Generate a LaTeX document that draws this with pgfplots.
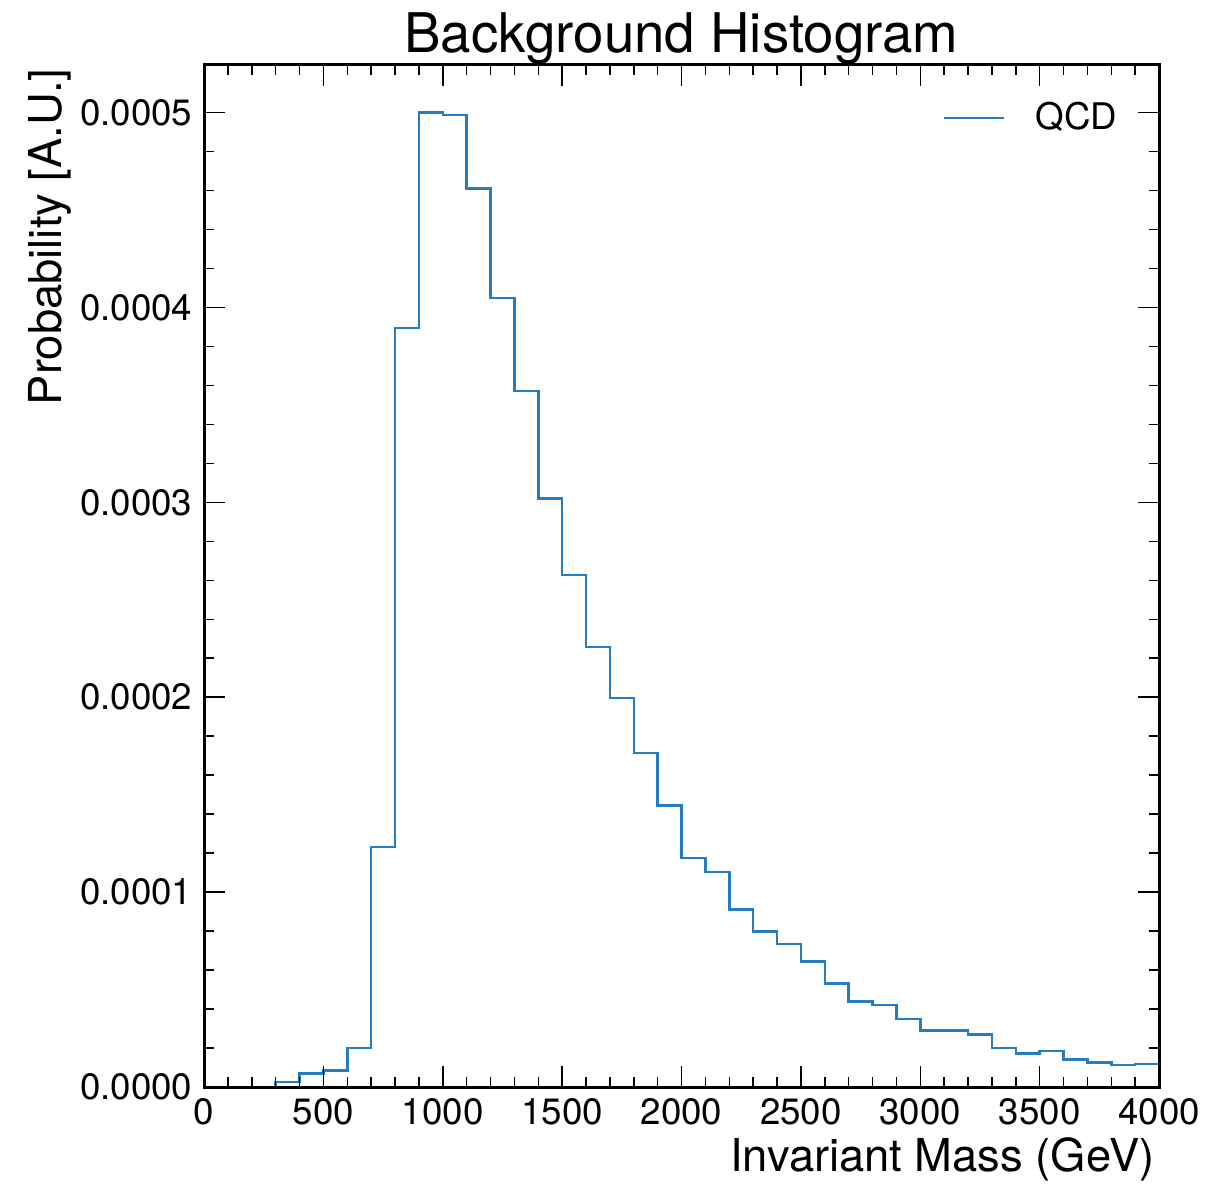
\documentclass[border=0pt]{standalone}
\usepackage{fontspec}
\setmainfont{TeX Gyre Heros}
\usepackage{pgfplots}
\pgfplotsset{compat=1.18}
\definecolor{qcd}{RGB}{38,124,190}
\begin{document}
\begin{tikzpicture}
\begin{axis}[
  name=ax, axis on top,
  scale only axis, width=286.5pt, height=306.6pt,
  xmin=0, xmax=4000, ymin=0, ymax=0.0005244,
  xtick={0,500,1000,1500,2000,2500,3000,3500,4000},
  ytick={0,0.0001,0.0002,0.0003,0.0004,0.0005},
  minor x tick num=4, minor y tick num=4,
  tick align=inside, xtick pos=both, ytick pos=both,
  xticklabel pos=bottom, yticklabel pos=left,
  major tick length=6.3pt, minor tick length=3pt,
  axis line style={line width=0.9pt},
  every tick/.style={black, line width=0.45pt},
  scaled y ticks=false, scaled x ticks=false,
  yticklabel style={/pgf/number format/.cd, fixed, fixed zerofill, precision=4},
  xticklabel style={/pgf/number format/1000 sep={}},
  /pgf/number format/assume math mode=true,
  tick label style={font=\fontsize{11}{13}\selectfont},
  every axis title/.style={at={(0.5,1)}, anchor=base, yshift=3.6pt, font=\fontsize{16.4}{19}\selectfont},
  title={Background Histogram},
  xlabel={Invariant Mass (GeV)}, ylabel={Probability [A.U.]},
  every axis x label/.style={at={(axis description cs:1,0)}, anchor=north east, inner sep=0pt,
    xshift=-1.2pt, yshift=-15pt, font=\fontsize{13.6}{16}\selectfont},
  every axis y label/.style={at={(axis description cs:0,1)}, xshift=-39.6pt, yshift=-0.9pt,
    rotate=90, anchor=south east, inner sep=0pt, font=\fontsize{13.6}{16}\selectfont},
  legend style={draw=none, fill=none, at={(axis description cs:1,1)}, anchor=east,
    xshift=-12.6pt, yshift=-15.9pt, inner sep=0pt, outer sep=0pt,
    font=\fontsize{11}{13}\selectfont, nodes={inner sep=0pt},
    /tikz/every odd column/.append style={column sep=9pt}},
  legend image code/.code={\draw[#1] (0pt,0pt) -- (18pt,0pt);},
]
\addplot[const plot, qcd, line width=0.75pt] coordinates {
(0,0) (100,0) (200,0) (300,2.5e-6) (400,6.9e-6) (500,8.5e-6) (600,2.0e-5)
(700,1.232e-4) (800,3.894e-4) (900,5.001e-4) (1000,4.987e-4) (1100,4.611e-4)
(1200,4.049e-4) (1300,3.572e-4) (1400,3.02e-4) (1500,2.626e-4) (1600,2.258e-4)
(1700,1.996e-4) (1800,1.714e-4) (1900,1.445e-4) (2000,1.175e-4) (2100,1.103e-4)
(2200,9.10e-5) (2300,7.97e-5) (2400,7.33e-5) (2500,6.43e-5) (2600,5.31e-5)
(2700,4.40e-5) (2800,4.20e-5) (2900,3.50e-5) (3000,2.90e-5) (3100,2.90e-5)
(3200,2.70e-5) (3300,1.99e-5) (3400,1.72e-5) (3500,1.86e-5) (3600,1.40e-5)
(3700,1.26e-5) (3800,1.14e-5) (3900,1.19e-5) (4000,1.19e-5)
};
\addlegendentry{QCD}
\end{axis}
\path ([xshift=-61.2pt,yshift=-29.4pt]ax.south west) rectangle ([xshift=20.7pt,yshift=19.5pt]ax.north east);
\end{tikzpicture}
\end{document}
